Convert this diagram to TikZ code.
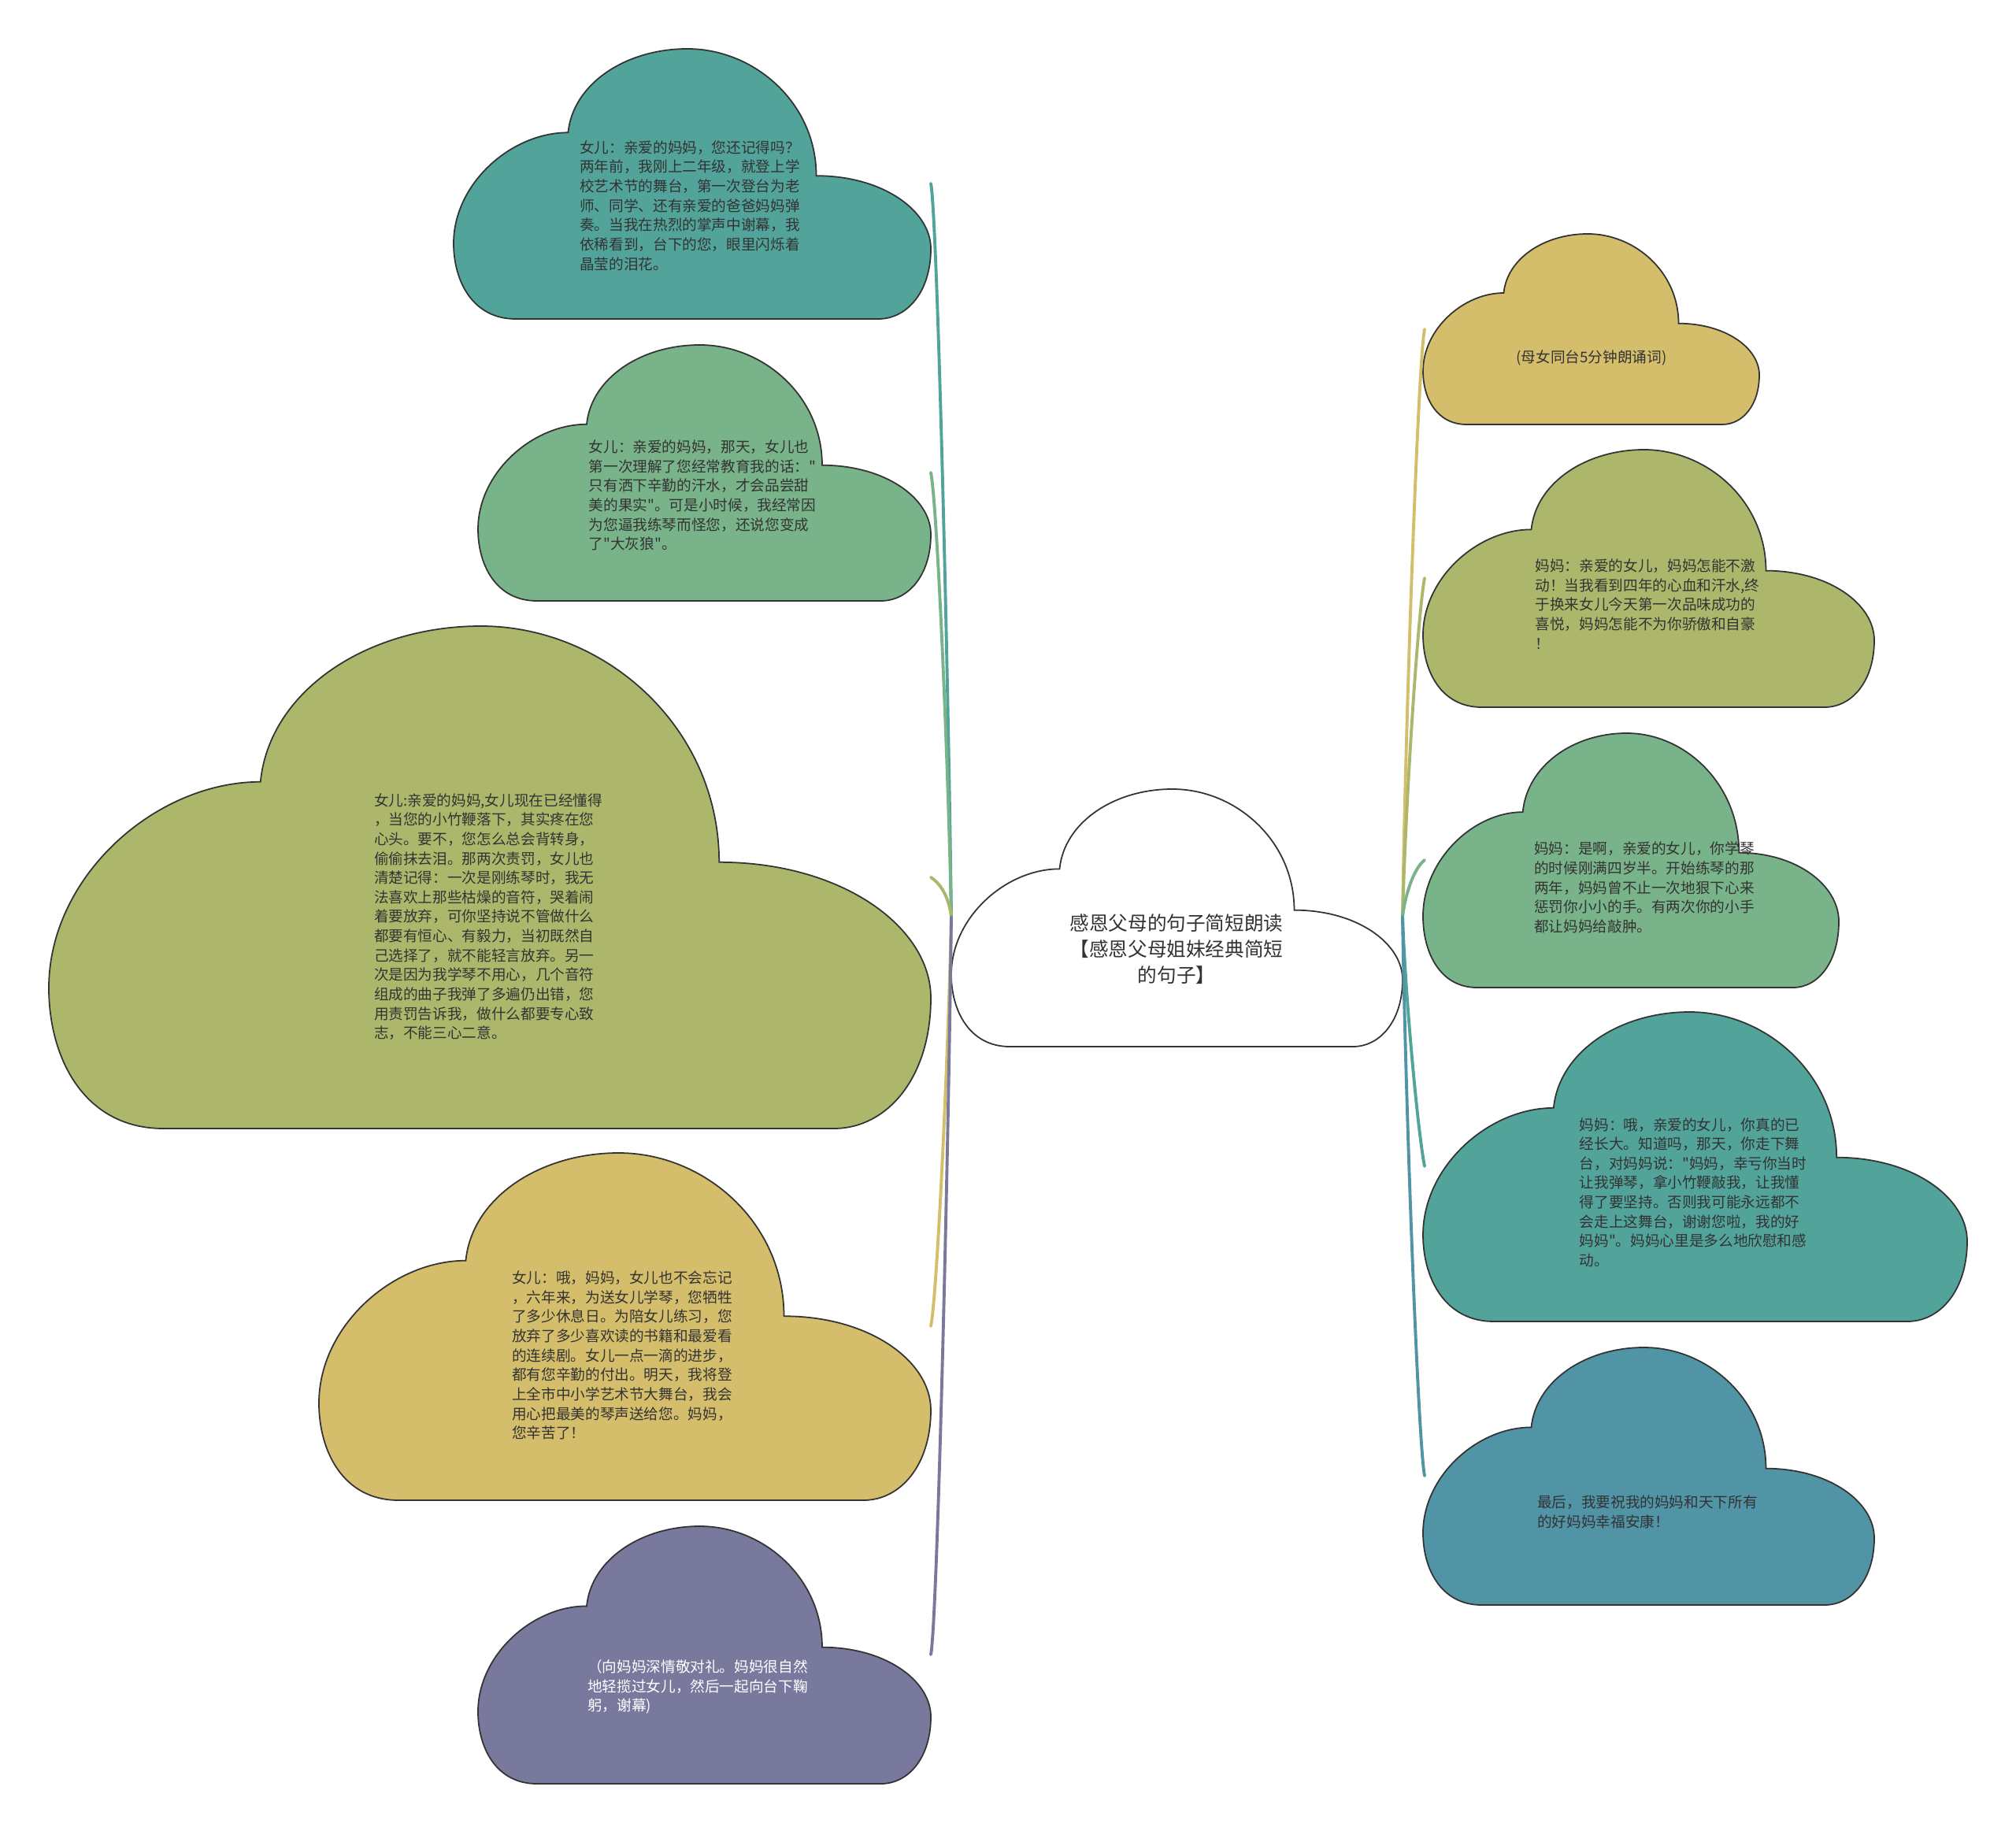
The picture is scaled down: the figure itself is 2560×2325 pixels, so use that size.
\documentclass[tikz,border=0pt]{standalone}
\usepackage{fontspec}
\newfontfamily\cjk{Noto Sans CJK SC}

\definecolor{cteal}{HTML}{52A39A}
\definecolor{cgreen}{HTML}{79B38A}
\definecolor{colive}{HTML}{ADB76C}
\definecolor{cyellow}{HTML}{D4BE6C}
\definecolor{cpurple}{HTML}{79799E}
\definecolor{cblue}{HTML}{5094A6}
\definecolor{ink}{HTML}{333333}

\tikzset{
  cloud/.style={draw=ink, line width=0.5pt},
  txt/.style={align=left, inner sep=0pt, text=ink, font=\cjk\fontsize{5.3}{7}\selectfont},
  link/.style={line width=1.1pt, line cap=round},
}

% cloud outline: fill, left, top, width, height
\newcommand{\cloudblob}[5]{%
  \begin{scope}[shift={(#2,#3)}, xscale=#4, yscale=#5]
    \filldraw[cloud, fill=#1] (0.13,1) .. controls (0.04,1) and (0,0.86) .. (0,0.72)
      .. controls (0,0.5) and (0.12,0.31) .. (0.24,0.31)
      .. controls (0.25,0.13) and (0.36,0) .. (0.49,0)
      .. controls (0.63,0) and (0.76,0.2) .. (0.76,0.47)
      .. controls (0.9,0.47) and (1,0.6) .. (1,0.74)
      .. controls (1,0.9) and (0.95,1) .. (0.89,1) -- cycle;
  \end{scope}}

\begin{document}
\begin{tikzpicture}[x=0.01cm, y=-0.01cm]
    \useasboundingbox (0,0) rectangle (2560,2325);
    \fill[white] (0,0) rectangle (2560,2325);

    % clouds on the left
    \cloudblob{cteal}{576}{62}{606}{343}
    \cloudblob{cgreen}{607}{438}{575}{325}
    \cloudblob{colive}{62}{795}{1120}{638}
    \cloudblob{cyellow}{405}{1464}{777}{441}
    \cloudblob{cpurple}{607}{1938}{575}{327}

    % centre cloud
    \cloudblob{white}{1208}{1002}{573}{327}

    % clouds on the right
    \cloudblob{cyellow}{1807}{297}{427}{242}
    \cloudblob{colive}{1807}{571}{573}{327}
    \cloudblob{cgreen}{1807}{931}{528}{323}
    \cloudblob{cteal}{1807}{1285}{691}{393}
    \cloudblob{cblue}{1807}{1711}{573}{327}

    % texts
    \node[txt, align=center, font=\cjk\fontsize{7}{9.3}\selectfont] (root) at (1494,1205)
        {感恩父母的句子简短朗读\\【感恩父母姐妹经典简短\\的句子】};

    \node[txt] (l1) at (876,261) {女儿：亲爱的妈妈，您还记得吗？\\两年前，我刚上二年级，就登上学\\校艺术节的舞台，第一次登台为老\\师、同学、还有亲爱的爸爸妈妈弹\\奏。当我在热烈的掌声中谢幕，我\\依稀看到，台下的您，眼里闪烁着\\晶莹的泪花。};
    \node[txt] (l2) at (892,629) {女儿：亲爱的妈妈，那天，女儿也\\第一次理解了您经常教育我的话："\\只有洒下辛勤的汗水，才会品尝甜\\美的果实"。可是小时候，我经常因\\为您逼我练琴而怪您，还说您变成\\了"大灰狼"。};
    \node[txt] (l3) at (620,1164) {女儿:亲爱的妈妈,女儿现在已经懂得\\，当您的小竹鞭落下，其实疼在您\\心头。要不，您怎么总会背转身，\\偷偷抹去泪。那两次责罚，女儿也\\清楚记得：一次是刚练琴时，我无\\法喜欢上那些枯燥的音符，哭着闹\\着要放弃，可你坚持说不管做什么\\都要有恒心、有毅力，当初既然自\\己选择了，就不能轻言放弃。另一\\次是因为我学琴不用心，几个音符\\组成的曲子我弹了多遍仍出错，您\\用责罚告诉我，做什么都要专心致\\志，不能三心二意。};
    \node[txt] (l4) at (790,1721) {女儿：哦，妈妈，女儿也不会忘记\\，六年来，为送女儿学琴，您牺牲\\了多少休息日。为陪女儿练习，您\\放弃了多少喜欢读的书籍和最爱看\\的连续剧。女儿一点一滴的进步，\\都有您辛勤的付出。明天，我将登\\上全市中小学艺术节大舞台，我会\\用心把最美的琴声送给您。妈妈，\\您辛苦了！};
    \node[txt, text=white] (l5) at (886,2142) {（向妈妈深情敬对礼。妈妈很自然\\地轻揽过女儿，然后一起向台下鞠\\躬，谢幕)};

    \node[txt] (r1) at (2021,454) {(母女同台5分钟朗诵词)};
    \node[txt] (r2) at (2092,767) {妈妈：亲爱的女儿，妈妈怎能不激\\动！当我看到四年的心血和汗水,终\\于换来女儿今天第一次品味成功的\\喜悦，妈妈怎能不为你骄傲和自豪\\！};
    \node[txt] (r3) at (2088,1127) {妈妈：是啊，亲爱的女儿，你学琴\\的时候刚满四岁半。开始练琴的那\\两年，妈妈曾不止一次地狠下心来\\惩罚你小小的手。有两次你的小手\\都让妈妈给敲肿。};
    \node[txt] (r4) at (2150,1514) {妈妈：哦，亲爱的女儿，你真的已\\经长大。知道吗，那天，你走下舞\\台，对妈妈说："妈妈，幸亏你当时\\让我弹琴，拿小竹鞭敲我，让我懂\\得了要坚持。否则我可能永远都不\\会走上这舞台，谢谢您啦，我的好\\妈妈"。妈妈心里是多么地欣慰和感\\动。};
    \node[txt] (r5) at (2092,1920) {最后，我要祝我的妈妈和天下所有\\的好妈妈幸福安康！};

    % connector ends
    \coordinate (root-w) at (1208,1164);
    \coordinate (root-e) at (1781,1164);
    \coordinate (l1-e) at (1182,233);
    \coordinate (l2-e) at (1182,600);
    \coordinate (l3-e) at (1182,1114);
    \coordinate (l4-e) at (1182,1684);
    \coordinate (l5-e) at (1182,2101);
    \coordinate (r1-w) at (1809,418);
    \coordinate (r2-w) at (1809,734);
    \coordinate (r3-w) at (1809,1092);
    \coordinate (r4-w) at (1809,1481);
    \coordinate (r5-w) at (1809,1874);

    % connectors
    \draw[link, cteal] (root-w) .. controls +(-4,-320) and +(8,40) .. (l1-e);
    \draw[link, cgreen] (root-w) .. controls +(-4,-200) and +(8,40) .. (l2-e);
    \draw[link, colive] (root-w) .. controls +(-3,-22) and +(15,10) .. (l3-e);
    \draw[link, cyellow] (root-w) .. controls +(-4,180) and +(8,-40) .. (l4-e);
    \draw[link, cpurple] (root-w) .. controls +(-4,320) and +(8,-40) .. (l5-e);

    \draw[link, cyellow] (root-e) .. controls +(4,-260) and +(-8,40) .. (r1-w);
    \draw[link, colive] (root-e) .. controls +(4,-150) and +(-8,40) .. (r2-w);
    \draw[link, cgreen] (root-e) .. controls +(3,-25) and +(-15,12) .. (r3-w);
    \draw[link, cteal] (root-e) .. controls +(4,110) and +(-8,-40) .. (r4-w);
    \draw[link, cblue] (root-e) .. controls +(4,250) and +(-8,-40) .. (r5-w);
\end{tikzpicture}
\end{document}
